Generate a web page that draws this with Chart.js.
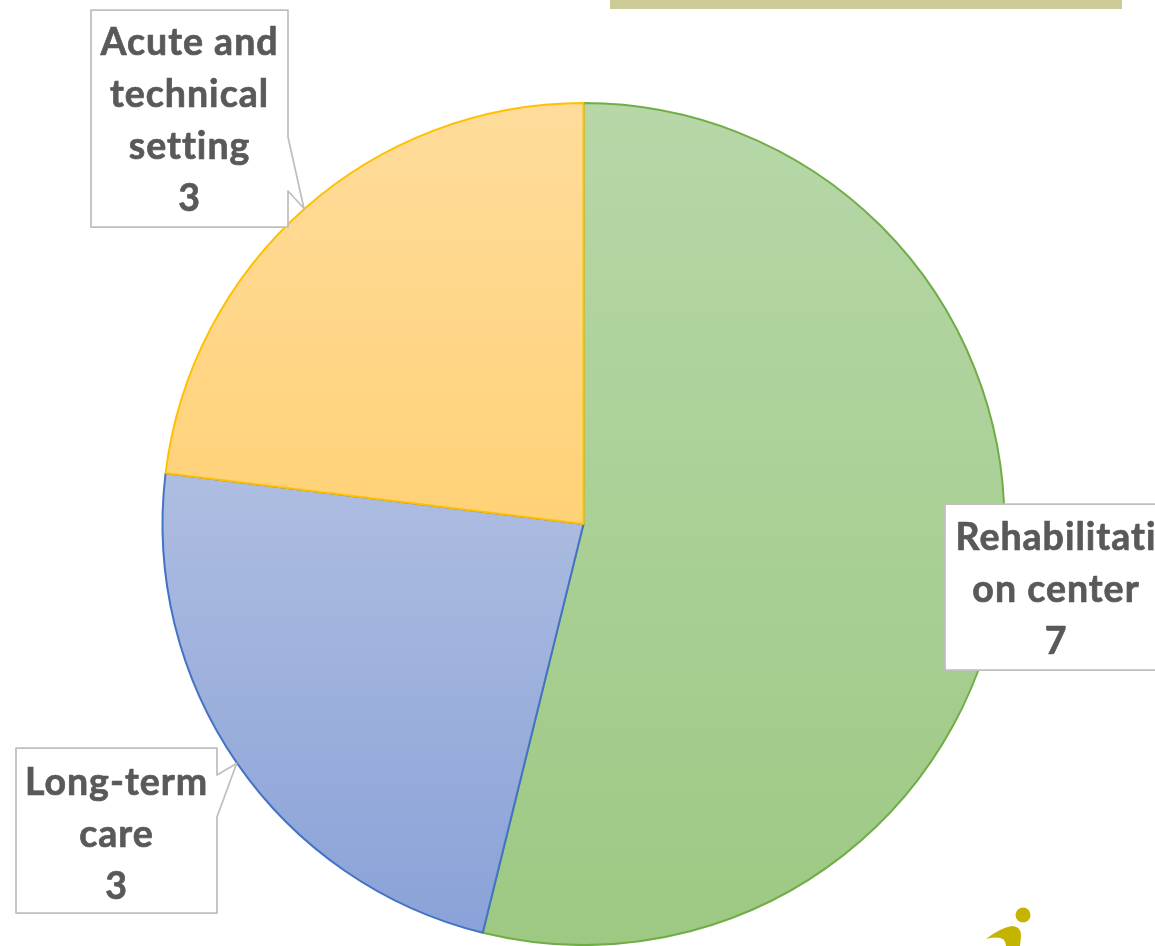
<!DOCTYPE html>
<html>
<head>
<meta charset="utf-8">
<title>Pie chart</title>
<script src="https://cdn.jsdelivr.net/npm/chart.js@4/dist/chart.umd.min.js"></script>
<style>
    html, body { margin: 0; padding: 0; background: #fff; overflow: hidden; }
    #chart { display: block; }
</style>
</head>
<body>
<canvas id="chart" width="1155" height="946"></canvas>
<script>
// ── Dati ───────────────────────────────────────────────────
var categories = ['Rehabilitation center', 'Long-term care', 'Acute and technical setting'];
var values = [7, 3, 3];
var labelLines = [
    ['Rehabilitati', 'on center'],
    ['Long-term', 'care'],
    ['Acute and', 'technical', 'setting']
];

// ── Stile ──────────────────────────────────────────────────
var borderColors = ['#70AD47', '#4472C4', '#FFC000'];
var gradientStops = [
    ['#B7D7A8', '#9DC983'],
    ['#AEBDE1', '#8AA2D8'],
    ['#FFDC9C', '#FFD277']
];
// vertical extent of each slice, as a fraction of the pie's height
var gradientSpan = [[0, 1], [0.44, 0.985], [0, 0.5]];

// callout boxes, left/top/right/bottom, and text centre + first line
var callouts = [
    { box: [945, 504, 1175, 670], textX: 1056, firstLine: 538, pointer: null },
    { box: [16, 748, 217, 913], textX: 116.5, firstLine: 783, pointer: [775, 817] },
    { box: [91, 10, 288, 227], textX: 189.5, firstLine: 43, pointer: [137, 191] }
];
var lineHeight = 52;

function sliceGradient(context) {
    var chart = context.chart;
    var area = chart.chartArea;
    if (!area) return borderColors[context.dataIndex];
    var span = gradientSpan[context.dataIndex];
    var h = area.bottom - area.top;
    var g = chart.ctx.createLinearGradient(0, area.top + span[0] * h, 0, area.top + span[1] * h);
    g.addColorStop(0, gradientStops[context.dataIndex][0]);
    g.addColorStop(1, gradientStops[context.dataIndex][1]);
    return g;
}

// Banda e logo, poi i callout con le etichette
var decorPlugin = {
    id: 'decor',
    afterDraw: function (chart) {
        var ctx = chart.ctx;
        var arcs = chart.getDatasetMeta(0).data;

        ctx.save();
        ctx.fillStyle = '#CDCC96';
        ctx.fillRect(610, 0, 512, 9);

        // logo
        ctx.fillStyle = '#C4B400';
        ctx.beginPath();
        ctx.arc(1023, 915, 7.5, 0, Math.PI * 2);
        ctx.fill();
        ctx.beginPath();
        ctx.moveTo(986, 939);
        ctx.quadraticCurveTo(1000, 928, 1012, 926);
        ctx.quadraticCurveTo(1021, 926, 1021, 936);
        ctx.lineTo(1020, 946);
        ctx.lineTo(1006, 946);
        ctx.quadraticCurveTo(1006, 934, 986, 939);
        ctx.fill();

        callouts.forEach(function (c, i) {
            var b = c.box;
            ctx.beginPath();
            ctx.moveTo(b[0], b[1]);
            ctx.lineTo(b[2], b[1]);
            if (c.pointer) {
                var arc = arcs[i];
                var mid = (arc.startAngle + arc.endAngle) / 2;
                var tipX = arc.x + Math.cos(mid) * (arc.outerRadius + 0.5);
                var tipY = arc.y + Math.sin(mid) * (arc.outerRadius + 0.5);
                ctx.lineTo(b[2], c.pointer[0]);
                ctx.lineTo(tipX, tipY);
                ctx.lineTo(b[2], c.pointer[1]);
            }
            ctx.lineTo(b[2], b[3]);
            ctx.lineTo(b[0], b[3]);
            ctx.closePath();
            ctx.fillStyle = '#fff';
            ctx.fill();
            ctx.strokeStyle = '#BFBFBF';
            ctx.lineWidth = 1.75;
            ctx.stroke();

            ctx.fillStyle = '#595959';
            ctx.strokeStyle = '#595959';
            ctx.lineWidth = 0.7;
            ctx.lineJoin = 'round';
            ctx.font = 'bold 37.5px Lato, "Open Sans", sans-serif';
            ctx.letterSpacing = '1px';
            ctx.textAlign = 'center';
            ctx.textBaseline = 'middle';
            var lines = labelLines[i].concat(String(values[i]));
            lines.forEach(function (line, n) {
                ctx.fillText(line, c.textX, c.firstLine + n * lineHeight);
                ctx.strokeText(line, c.textX, c.firstLine + n * lineHeight);
            });
        });
        ctx.restore();
    }
};

new Chart(document.getElementById('chart').getContext('2d'), {
    type: 'pie',
    data: {
        labels: categories,
        datasets: [{
            data: values,
            backgroundColor: sliceGradient,
            borderColor: borderColors,
            borderWidth: 2,
            hoverOffset: 0
        }]
    },
    options: {
        responsive: false,
        animation: false,
        layout: { padding: { left: 161, right: 149, top: 102, bottom: -1 } },
        plugins: {
            legend: { display: false },
            tooltip: { enabled: false }
        }
    },
    plugins: [decorPlugin]
});
</script>
</body>
</html>
